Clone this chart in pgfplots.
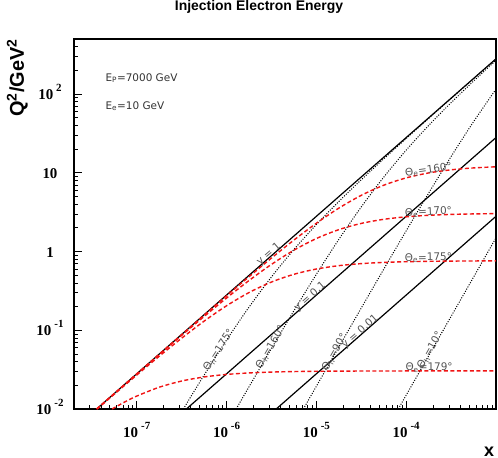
\documentclass[border=0pt]{standalone}
\usepackage{pgfplots}
\pgfplotsset{compat=1.18}
\usepackage{fontspec}
\setmainfont{Liberation Serif}
\newfontfamily\hv{Liberation Sans}
\newfontfamily\dv{DejaVu Sans}
\definecolor{lblgray}{RGB}{85,85,85}
\definecolor{curvered}{RGB}{240,20,20}

% tick labels: bold serif "10" with raised exponent
\newcommand{\tl}[1]{{\fontsize{15}{15}\selectfont\bfseries #1}}
\newcommand{\ex}[1]{{\fontsize{15}{15}\selectfont\bfseries 10\hspace{3bp}\raisebox{8bp}{\fontsize{11}{11}\selectfont #1}}}
\newcommand{\lab}[1]{{\dv\fontsize{10.5}{11}\selectfont\color{lblgray}#1}}

\begin{document}
\begin{tikzpicture}
\useasboundingbox (-74bp,-49bp) rectangle (424bp,409bp);
\begin{axis}[
  at={(0,0)}, anchor=south west,
  scale only axis, width=422bp, height=370bp,
  xmode=log, ymode=log,
  xmin=2e-8, xmax=1e-3, ymin=1e-2, ymax=500,
  axis line style={line width=1.3bp},
  tick pos=left, tick align=inside,
  major tick length=8bp, minor tick length=4bp,
  every tick/.style={black, line width=0.7bp},
  xtick={1e-7,1e-6,1e-5,1e-4},
  xticklabels={\ex{-7},\ex{-6},\ex{-5},\ex{-4}},
  minor xtick={3e-8,4e-8,5e-8,6e-8,7e-8,8e-8,9e-8,
    2e-7,3e-7,4e-7,5e-7,6e-7,7e-7,8e-7,9e-7,
    2e-6,3e-6,4e-6,5e-6,6e-6,7e-6,8e-6,9e-6,
    2e-5,3e-5,4e-5,5e-5,6e-5,7e-5,8e-5,9e-5,
    2e-4,3e-4,4e-4,5e-4,6e-4,7e-4,8e-4,9e-4},
  ytick={1e-2,1e-1,1,10,100},
  yticklabels={\ex{-2},\ex{-1},\tl{1},\tl{10},\ex{2}},
  minor ytick={0.02,0.03,0.04,0.05,0.06,0.07,0.08,0.09,
    0.2,0.3,0.4,0.5,0.6,0.7,0.8,0.9,
    2,3,4,5,6,7,8,9,
    20,30,40,50,60,70,80,90,
    200,300,400},
  xticklabel style={anchor=base, yshift=-28bp},
  yticklabel style={anchor=base, xshift=-24bp, yshift=-5.5bp},
]
% lines of constant y
\addplot[black, line width=1.2bp] coordinates {(3.5714e-8,0.01) (1e-3,280)};
\addplot[black, line width=1.2bp] coordinates {(3.5714e-7,0.01) (1e-3,28)};
\addplot[black, line width=1.2bp] coordinates {(3.5714e-6,0.01) (1e-3,2.8)};

% lines of constant hadron angle
\addplot[black, line width=1bp, dash pattern=on 1bp off 1.5bp, smooth] coordinates {
 (3.3023e-7,0.01) (4.3e-7,0.016419) (5.62341e-7,0.026949) (1e-6,0.075203) (1.77828e-6,0.196698)
 (3.16228e-6,0.475746) (5.62341e-6,1.060833) (1e-5,2.200697) (1.77828e-5,4.317955)
 (3.16228e-5,8.152351) (5.62341e-5,15.01835) (1e-4,27.25757) (1.77828e-4,49.04063)
 (3.16228e-4,87.78678) (5.62341e-4,156.6967) (1e-3,279.2408)};
\addplot[black, line width=1bp, dash pattern=on 1bp off 1.5bp, smooth] coordinates {
 (1.2775e-6,0.01) (1.77828e-6,0.019168) (3.16228e-6,0.058851) (5.62341e-6,0.176949)
 (1e-5,0.514554) (1.77828e-5,1.423589) (3.16228e-5,3.682338) (5.62341e-5,8.797214)
 (1e-4,19.38842) (1.77828e-4,39.84097) (3.16228e-4,77.63914) (5.62341e-4,145.9299)
 (1e-3,268.0926)};
\addplot[black, line width=1bp, dash pattern=on 1bp off 1.5bp, smooth] coordinates {
 (7.16074e-6,0.01) (1e-5,0.019464) (1.77828e-5,0.061219) (3.16228e-5,0.191754)
 (5.62341e-5,0.596335) (1e-4,1.831776) (1.77828e-4,5.512000) (3.16228e-4,16.04776)
 (5.62341e-4,44.47423) (1e-3,115.2941)};
\addplot[black, line width=1bp, dash pattern=on 1bp off 1.5bp, smooth] coordinates {
 (8.16616e-5,0.01) (1e-4,0.014994) (1.77828e-4,0.047396) (3.16228e-4,0.149769)
 (5.62341e-4,0.472991) (1e-3,1.492222)};

% lines of constant electron angle
\addplot[curvered, line width=1.4bp, dash pattern=on 4bp off 2.5bp, smooth] coordinates {
 (3.574e-8,0.01) (5.62341e-8,0.015726) (1e-7,0.027937) (1.77828e-7,0.049593)
 (3.16228e-7,0.087918) (5.62341e-7,0.155487) (1e-6,0.273835) (1.77828e-6,0.478751)
 (3.16228e-6,0.826591) (5.62341e-6,1.397619) (1e-5,2.285450) (1.77828e-5,3.555632)
 (3.16228e-5,5.171885) (5.62341e-5,6.948386) (1e-4,8.611556) (1.77828e-4,9.951039)
 (3.16228e-4,10.904863) (5.62341e-4,11.526116) (1e-3,11.907604)};
\addplot[curvered, line width=1.4bp, dash pattern=on 4bp off 2.5bp, smooth] coordinates {
 (3.583e-8,0.01) (5.62341e-8,0.015665) (1e-7,0.027746) (1.77828e-7,0.048995)
 (3.16228e-7,0.086055) (5.62341e-7,0.149755) (1e-6,0.256540) (1.77828e-6,0.428267)
 (3.16228e-6,0.686807) (5.62341e-6,1.039790) (1e-5,1.462506) (1.77828e-5,1.895913)
 (3.16228e-5,2.275044) (5.62341e-5,2.563287) (1e-4,2.759927) (1.77828e-4,2.884358)
 (3.16228e-4,2.959382) (5.62341e-4,3.003314) (1e-3,3.028593)};
\addplot[curvered, line width=1.4bp, dash pattern=on 4bp off 2.5bp, smooth] coordinates {
 (3.619e-8,0.01) (5.62341e-8,0.015427) (1e-7,0.027008) (1.77828e-7,0.046740)
 (3.16228e-7,0.079332) (5.62341e-7,0.130507) (1e-6,0.204796) (1.77828e-6,0.301222)
 (3.16228e-6,0.409691) (5.62341e-6,0.513727) (1e-5,0.599303) (1.77828e-5,0.661246)
 (3.16228e-5,0.702054) (5.62341e-5,0.727288) (1e-4,0.742294) (1.77828e-4,0.751008)
 (3.16228e-4,0.755998) (5.62341e-4,0.758833) (1e-3,0.760437)};
\addplot[curvered, line width=1.4bp, dash pattern=on 4bp off 2.5bp, smooth] coordinates {
 (5.317e-8,0.01) (5.62341e-8,0.010380) (7.5e-8,0.012431) (1e-7,0.014590)
 (1.77828e-7,0.018900) (3.16228e-7,0.022665) (5.62341e-7,0.025525) (1e-6,0.027474)
 (1.77828e-6,0.028707) (3.16228e-6,0.029450) (5.62341e-6,0.029885) (1e-5,0.030135)
 (1.77828e-5,0.030278) (3.16228e-5,0.030359) (5.62341e-5,0.030404) (1e-4,0.030430)
 (1.77828e-4,0.030445) (3.16228e-4,0.030453) (5.62341e-4,0.030457) (1e-3,0.030460)};

% annotations
\node[rotate=41.3, anchor=base] at (axis cs:3.1e-6,0.87) {\lab{y = 1}};
\node[rotate=41.3, anchor=base] at (axis cs:8.95e-6,0.2506) {\lab{y = 0.1}};
\node[rotate=41.3, anchor=base] at (axis cs:3.22e-5,0.0902) {\lab{y = 0.01}};
\node[rotate=57, anchor=center] at (axis cs:8.2e-7,0.0558) {\lab{Θ\textsubscript{h}=175°}};
\node[rotate=59.4, anchor=center] at (axis cs:3.1e-6,0.0609) {\lab{Θ\textsubscript{h}=160°}};
\node[rotate=60.4, anchor=center] at (axis cs:1.6e-5,0.0527) {\lab{Θ\textsubscript{h}=90°}};
\node[rotate=60.4, anchor=center] at (axis cs:1.85e-4,0.0558) {\lab{Θ\textsubscript{h}=10°}};
\node[rotate=8, anchor=center] at (axis cs:1.77e-4,10.9) {\lab{Θ\textsubscript{e}=160°}};
\node[rotate=3, anchor=center] at (axis cs:1.77e-4,3.18) {\lab{Θ\textsubscript{e}=170°}};
\node[rotate=1, anchor=center] at (axis cs:1.77e-4,0.83) {\lab{Θ\textsubscript{e}=175°}};
\node[anchor=center] at (axis cs:1.8e-4,0.0332) {\lab{Θ\textsubscript{e}=179°}};
\end{axis}
\node[anchor=base] at (185bp,398bp) {\hv\fontsize{14}{14}\selectfont\bfseries Injection Electron Energy};
\node[rotate=90, anchor=base east, inner sep=0pt] at (-50bp,370bp) {\hv\fontsize{20}{20}\selectfont\bfseries Q\textsuperscript{2}/GeV\textsuperscript{2}};
\node[anchor=center, inner sep=0pt] at (415bp,-43bp) {\hv\fontsize{18}{18}\selectfont\bfseries x};
\node[anchor=west] at (28bp,331bp) {\dv\fontsize{10.5}{11}\selectfont\color{black!80}E\textsubscript{P}=7000 GeV};
\node[anchor=west] at (28bp,303bp) {\dv\fontsize{10.5}{11}\selectfont\color{black!80}E\textsubscript{e}=10 GeV};
\end{tikzpicture}
\end{document}
